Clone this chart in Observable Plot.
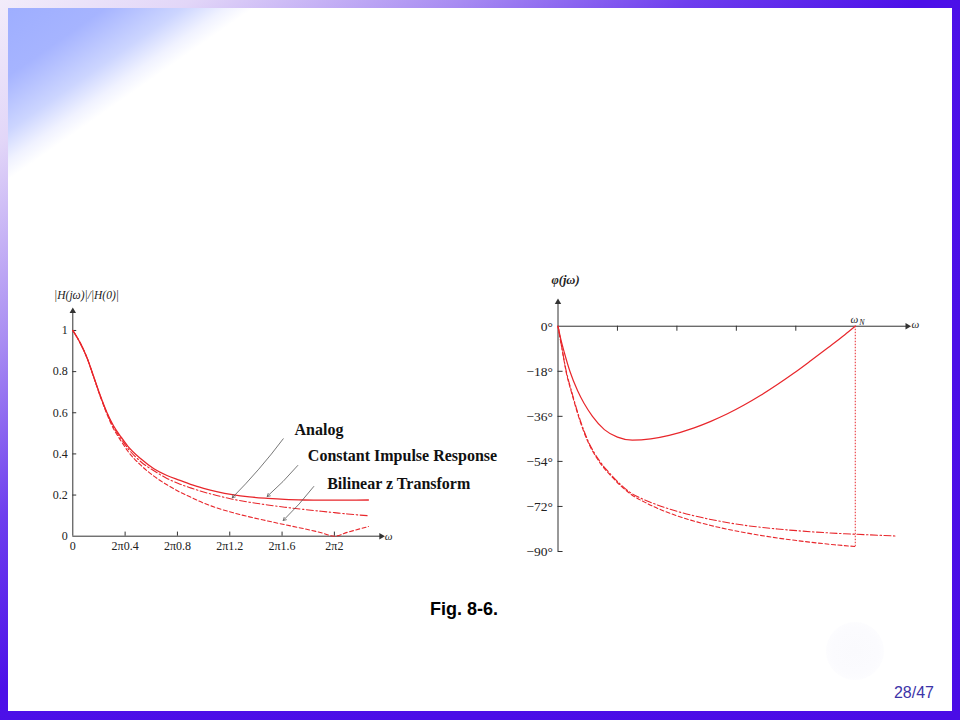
<!DOCTYPE html>
<html><head><meta charset="utf-8">
<script src="https://cdn.jsdelivr.net/npm/d3@7"></script>
<script src="https://cdn.jsdelivr.net/npm/@observablehq/plot@0.6"></script>
<style>
html,body{margin:0;padding:0;background:#fff;}
#page{position:relative;width:960px;height:720px;overflow:hidden;
 background:linear-gradient(to bottom right,#f2ecfa 0%,#e2d6f8 10%,#a88cf2 24%,#6e3eee 36%,#4c10e8 48%,#4a0ce6 100%);}
#inner{position:absolute;left:8px;top:8px;width:944px;height:703px;
 background:linear-gradient(145deg,#9eaeff 0%,#a6b4ff 5%,#ccd5ff 9%,#f0f2ff 11.2%,#ffffff 12.6%);}
.chart{position:absolute;}
.chart svg{overflow:visible;display:block;max-width:none;}
#fig{position:absolute;left:364px;top:600px;width:200px;text-align:center;font:bold 18px/18px "Liberation Sans",Arial,sans-serif;color:#000;}
#pg{position:absolute;left:834px;top:685px;width:100px;text-align:right;font:16px/16px "Liberation Sans",Arial,sans-serif;color:#3c34a8;}
#blob{position:absolute;left:826px;top:622px;width:58px;height:58px;border-radius:50%;background:radial-gradient(circle,#fafafd 0%,#fbfbfe 55%,rgba(255,255,255,0) 100%);}
</style></head>
<body>
<div id="page">
  <div id="inner"></div>
  <div id="blob"></div>
  <div class="chart" id="left" style="left:20px;top:282px;width:490px;height:288px;"></div>
  <div class="chart" id="right" style="left:500px;top:265px;width:440px;height:300px;"></div>
  <div id="fig">Fig. 8-6.</div>
  <div id="pg">28/47</div>
</div>
<script>
// ---------- Left chart: |H(jω)|/|H(0)| vs ω = 2π·f ----------
const magF        = [0, 0.06, 0.11, 0.16, 0.21, 0.26, 0.31, 0.37, 0.42, 0.52, 0.62, 0.72, 0.82, 0.9, 1.0, 1.1, 1.22, 1.35, 1.49, 1.62, 1.77, 1.9, 2.0, 2.1, 2.26];
const magImpulse  = [1, 0.935, 0.865, 0.775, 0.684, 0.603, 0.538, 0.481, 0.438, 0.376, 0.328, 0.295, 0.271, 0.252, 0.233, 0.217, 0.202, 0.191, 0.184, 0.179, 0.176, 0.175, 0.175, 0.175, 0.176];
const magAnalog   = [1, 0.935, 0.865, 0.774, 0.682, 0.6, 0.532, 0.473, 0.428, 0.362, 0.318, 0.281, 0.253, 0.235, 0.215, 0.198, 0.18, 0.165, 0.152, 0.141, 0.13, 0.121, 0.1145, 0.108, 0.0995];
const magBilinear = [1, 0.935, 0.864, 0.772, 0.679, 0.595, 0.524, 0.462, 0.414, 0.345, 0.292, 0.25, 0.214, 0.19, 0.161, 0.138, 0.115, 0.094, 0.074, 0.056, 0.036, 0.017, 0.0, 0.019, 0.047];
const magTicksX = [0, 0.4, 0.8, 1.2, 1.6, 2];
const magTicksY = [0, 0.2, 0.4, 0.6, 0.8, 1];
const magAxisEnd = {x: 2.358, y: 1.094};

const annoLabels = ["Analog", "Constant Impulse Response", "Bilinear z Transform"];
const annoTextX  = [1.695, 1.797, 1.945];
const annoTextY  = [0.494, 0.365, 0.227];
const annoTailX  = [1.609, 1.720, 1.8425];
const annoTailY  = [0.4735, 0.3437, 0.2416];
const annoHeadX  = [1.219, 1.486, 1.609];
const annoHeadY  = [0.1867, 0.193, 0.0763];

// ---------- Right chart: φ(jω) in degrees vs ω (ωN = 5 units) ----------
const omegaN = 5;
const phImpU = [0, 0.05, 0.106, 0.2, 0.33, 0.44, 0.58, 0.78, 1.0, 1.25, 1.56, 1.87, 2.29, 2.57, 2.85, 3.13, 3.41, 3.69, 3.97, 4.25, 4.54, 4.82, 5.0];
const phImp  = [0, -5.5, -10.5, -18, -25.8, -30.9, -36, -41.3, -44.3, -45.5, -45.0, -43.6, -40.6, -38.0, -35.0, -31.5, -27.6, -23.3, -18.7, -13.8, -8.6, -3.5, 0];
const phBilU = [0, 0.06, 0.135, 0.24, 0.345, 0.5, 0.69, 0.9, 1.22, 1.5, 1.73, 2.01, 2.57, 3.13, 3.69, 4.25, 4.65, 5.0];
const phBil  = [0, -8, -18, -27.5, -36, -46, -54, -60, -67, -70.8, -73.3, -75.8, -79.6, -82.4, -84.6, -86.3, -87.3, -88];
const phAnaU = [0, 0.06, 0.135, 0.24, 0.345, 0.5, 0.69, 0.9, 1.22, 1.5, 1.73, 2.01, 2.57, 3.13, 3.69, 4.25, 4.82, 5.0, 5.68];
const phAna  = [0, -8, -17.5, -27, -35.5, -45.5, -53.5, -59.5, -66.5, -69.8, -71.9, -74.0, -77.2, -79.5, -81.0, -82.1, -82.9, -83.1, -83.8];
const phTicksX = [1, 2, 3, 4];
const phTicksY = [0, -18, -36, -54, -72, -90];
const phAxisEnd = {x: 5.877, yTop: 9.6, yBottom: -90};

const RED = "#e8262b";
const AX = "#333";
const SERIF = "Liberation Serif, Times New Roman, serif";
const zip = (xs, ys) => xs.map((x, i) => ({x, y: ys[i]}));

const left = Plot.plot({
  width: 490, height: 288,
  marginLeft: 52.3, marginRight: 123.8, marginTop: 27.4, marginBottom: 34.3,
  x: {domain: [0, 2.4]},
  y: {domain: [0, 1.1]},
  style: {fontFamily: SERIF, fontSize: "12px", color: "#222", background: "transparent"},
  marks: [
    Plot.ruleY([0], {x1: 0, x2: magAxisEnd.x, stroke: AX, strokeWidth: 1}),
    Plot.ruleX([0], {y1: 0, y2: magAxisEnd.y, stroke: AX, strokeWidth: 1}),
    Plot.dot([{x: magAxisEnd.x, y: 0}], {x: "x", y: "y", symbol: "triangle", rotate: 90, r: 2.4, fill: AX, stroke: null}),
    Plot.dot([{x: 0, y: magAxisEnd.y}], {x: "x", y: "y", symbol: "triangle", r: 2.4, fill: AX, stroke: null}),
    Plot.ruleX(magTicksX.slice(1), {y1: 0, y2: 0.02, stroke: AX}),
    Plot.ruleY(magTicksY.slice(1), {x1: 0, x2: 0.03, stroke: AX}),
    Plot.axisX(magTicksX, {tickSize: 0, tickPadding: 5, label: null, fontSize: 12,
      tickFormat: f => f === 0 ? "0" : "2π" + f}),
    Plot.axisY(magTicksY, {tickSize: 0, tickPadding: 5, label: null, fontSize: 12, tickFormat: d => String(d)}),
    Plot.line(zip(magF, magImpulse), {x: "x", y: "y", stroke: RED, strokeWidth: 1.3, curve: "monotone-x"}),
    Plot.line(zip(magF, magAnalog), {x: "x", y: "y", stroke: RED, strokeWidth: 1.1, strokeDasharray: "7,2.5,1.5,2.5", curve: "monotone-x"}),
    Plot.line(zip(magF, magBilinear), {x: "x", y: "y", stroke: RED, strokeWidth: 1.1, strokeDasharray: "4,2.5", curve: "monotone-x"}),
    Plot.arrow(annoLabels.map((l, i) => ({x1: annoTailX[i], y1: annoTailY[i], x2: annoHeadX[i], y2: annoHeadY[i]})),
      {x1: "x1", y1: "y1", x2: "x2", y2: "y2", bend: 4, stroke: "#555", strokeWidth: 0.8, headLength: 6, inset: 0}),
    Plot.text(annoLabels.map((l, i) => ({l, x: annoTextX[i], y: annoTextY[i]})),
      {x: "x", y: "y", text: "l", textAnchor: "start", lineAnchor: "bottom", fontSize: 16, fontWeight: "bold", fontFamily: SERIF, fill: "#111"}),
    Plot.text([{x: 0.105, y: 1.17, t: "|H(jω)|/|H(0)|"}], {x: "x", y: "y", text: "t", fontStyle: "italic", fontSize: 11.5, fontFamily: SERIF, fill: "#222"}),
    Plot.text([{x: 2.414, y: 0, t: "ω"}], {x: "x", y: "y", text: "t", fontStyle: "italic", fontSize: 11, fontFamily: SERIF, fill: "#222"})
  ]
});
document.getElementById("left").appendChild(left);

const right = Plot.plot({
  width: 440, height: 300,
  marginLeft: 57.5, marginRight: 25.8, marginTop: 35.7, marginBottom: 14,
  x: {domain: [0, 6], axis: null},
  y: {domain: [-90, 10]},
  style: {fontFamily: SERIF, fontSize: "13.5px", color: "#222", background: "transparent"},
  marks: [
    Plot.ruleY([0], {x1: 0, x2: phAxisEnd.x, stroke: AX}),
    Plot.ruleX([0], {y1: phAxisEnd.yBottom, y2: phAxisEnd.yTop, stroke: AX}),
    Plot.dot([{x: phAxisEnd.x, y: 0}], {x: "x", y: "y", symbol: "triangle", rotate: 90, r: 2.4, fill: AX, stroke: null}),
    Plot.dot([{x: 0, y: phAxisEnd.yTop}], {x: "x", y: "y", symbol: "triangle", r: 2.4, fill: AX, stroke: null}),
    Plot.ruleX(phTicksX, {y1: 0, y2: -2, stroke: AX}),
    Plot.ruleY(phTicksY.slice(1), {x1: 0, x2: 0.085, stroke: AX}),
    Plot.axisY(phTicksY, {tickSize: 0, tickPadding: 5, label: null, fontSize: 13.5,
      tickFormat: d => d === 0 ? "0°" : "−" + (-d) + "°"}),
    Plot.ruleX([omegaN], {y1: 0, y2: phBil[phBil.length - 1], stroke: RED, strokeWidth: 1, strokeDasharray: "1.5,1.5"}),
    Plot.line(zip(phImpU, phImp), {x: "x", y: "y", stroke: RED, strokeWidth: 1.2, curve: "monotone-x"}),
    Plot.line(zip(phAnaU, phAna), {x: "x", y: "y", stroke: RED, strokeWidth: 1.1, strokeDasharray: "7,2.5,1.5,2.5", curve: "monotone-x"}),
    Plot.line(zip(phBilU, phBil), {x: "x", y: "y", stroke: RED, strokeWidth: 1.1, strokeDasharray: "4,2.5", curve: "monotone-x"}),
    Plot.text([{x: 0.126, y: 18.3, t: "φ(jω)"}], {x: "x", y: "y", text: "t", fontStyle: "italic", fontWeight: "bold", fontSize: 12.5, fontFamily: SERIF, fill: "#222"}),
    Plot.text([{x: 4.987, y: 2.6, t: "ω"}], {x: "x", y: "y", text: "t", fontStyle: "italic", fontSize: 11, fontFamily: SERIF, fill: "#222"}),
    Plot.text([{x: 5.114, y: 1.4, t: "N"}], {x: "x", y: "y", text: "t", fontStyle: "italic", fontSize: 8, fontFamily: SERIF, fill: "#222"}),
    Plot.text([{x: 6.013, y: 0.6, t: "ω"}], {x: "x", y: "y", text: "t", fontStyle: "italic", fontSize: 11, fontFamily: SERIF, fill: "#222"})
  ]
});
document.getElementById("right").appendChild(right);
</script>
</body></html>
